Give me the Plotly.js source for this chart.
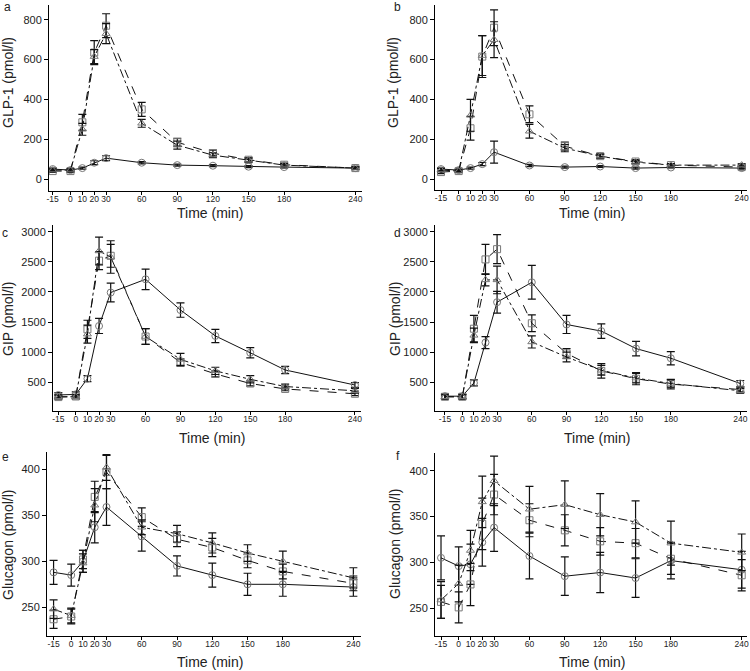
<!DOCTYPE html>
<html>
<head>
<meta charset="utf-8">
<script src="https://cdn.plot.ly/plotly-3.0.1.min.js"></script>
<style>html,body{margin:0;padding:0;background:#fff;}#chart{width:750px;height:671px;}</style>
</head>
<body>
<div id="chart"></div>
<script>
const time = [-15, 0, 10, 20, 30, 60, 90, 120, 150, 180, 240];
const timeLabels = ["-15", "0", "10", "20", "30", "60", "90", "120", "150", "180", "240"];

const aCircle = [50, 45, 55, 82, 105, 82, 70, 67, 62, 60, 55];
const aCircleErr = [6, 5, 5, 10, 12, 6, 5, 5, 5, 5, 5];
const aSquare = [40, 40, 285, 635, 770, 350, 185, 130, 97, 72, 55];
const aSquareErr = [6, 6, 40, 60, 60, 35, 20, 15, 10, 8, 6];
const aTriangle = [45, 45, 250, 615, 730, 280, 170, 120, 95, 70, 55];
const aTriangleErr = [6, 6, 30, 35, 50, 20, 20, 12, 10, 8, 6];

const bCircle = [50, 45, 55, 75, 135, 68, 60, 63, 55, 58, 55];
const bCircleErr = [6, 6, 5, 8, 55, 6, 5, 5, 5, 5, 5];
const bSquare = [35, 40, 255, 615, 760, 325, 165, 115, 88, 70, 60];
const bSquareErr = [8, 6, 60, 105, 90, 42, 20, 10, 10, 8, 6];
const bTriangle = [45, 40, 320, 620, 700, 240, 155, 115, 85, 70, 70];
const bTriangleErr = [8, 6, 80, 100, 90, 35, 18, 10, 8, 8, 6];

const cCircle = [290, 300, 560, 1435, 1990, 2210, 1700, 1270, 990, 705, 455];
const cCircleErr = [40, 40, 50, 125, 155, 170, 120, 110, 85, 60, 40];
const cSquare = [255, 265, 1380, 2520, 2600, 1260, 830, 640, 480, 390, 310];
const cSquareErr = [30, 30, 150, 150, 190, 130, 60, 50, 40, 30, 30];
const cTriangle = [260, 260, 1300, 2680, 2580, 1260, 880, 690, 550, 430, 360];
const cTriangleErr = [30, 30, 150, 230, 270, 130, 100, 60, 60, 40, 40];

const dCircle = [270, 270, 490, 1160, 1830, 2160, 1460, 1350, 1060, 900, 480];
const dCircleErr = [40, 30, 50, 100, 180, 280, 150, 120, 120, 110, 50];
const dSquare = [260, 260, 1390, 2540, 2710, 1480, 980, 690, 560, 470, 380];
const dSquareErr = [40, 40, 220, 250, 240, 140, 80, 120, 100, 80, 40];
const dTriangle = [260, 260, 1280, 2200, 2200, 1170, 920, 700, 570, 480, 360];
const dTriangleErr = [30, 30, 120, 100, 230, 100, 80, 80, 80, 60, 40];

const eCircle = [288, 285, 300, 337, 359, 327, 295, 285, 275, 275, 272];
const eCircleErr = [13, 12, 12, 17, 20, 16, 11, 13, 12, 13, 10];
const eSquare = [237, 240, 302, 370, 397, 348, 324, 315, 301, 289, 276];
const eSquareErr = [10, 8, 10, 17, 18, 10, 8, 10, 8, 8, 8];
const eTriangle = [248, 241, 298, 361, 402, 337, 330, 320, 309, 300, 282];
const eTriangleErr = [10, 8, 10, 18, 14, 8, 9, 11, 9, 11, 11];

const fCircle = [305, 296, 298, 322, 338, 307, 285, 289, 283, 302, 292];
const fCircleErr = [24, 21, 22, 26, 26, 25, 21, 22, 21, 20, 20];
const fSquare = [257, 251, 276, 342, 374, 346, 335, 323, 321, 304, 286];
const fSquareErr = [18, 17, 23, 28, 22, 18, 17, 15, 16, 17, 17];
const fTriangle = [259, 277, 313, 366, 389, 358, 363, 352, 344, 321, 311];
const fTriangleErr = [20, 20, 22, 28, 27, 25, 26, 23, 23, 24, 20];

const glpTicks = [0, 200, 400, 600, 800];
const gipTicks = [500, 1000, 1500, 2000, 2500, 3000];
const glucTicks = [250, 300, 350, 400];

const W = 750, H = 671;
const FONT = "Liberation Sans, Arial, sans-serif";

// panel geometry in pixels: [x0, x1, yTop, yBottom]
const panels = [
  {id: 'a', px: [49, 362, 5, 191], xr: [-18.1, 245.6], yr: [-60, 874], yt: glpTicks, ytitle: 'GLP-1 (pmol/l)',
   s: [[aCircle, aCircleErr], [aSquare, aSquareErr], [aTriangle, aTriangleErr]],
   ytPos: [8, 83], xtPos: [210, 213], lab: [7, 7]},
  {id: 'b', px: [435, 747, 5, 190], xr: [-20.1, 244.5], yr: [-55, 874], yt: glpTicks, ytitle: 'GLP-1 (pmol/l)',
   s: [[bCircle, bCircleErr], [bSquare, bSquareErr], [bTriangle, bTriangleErr]],
   ytPos: [393, 83], xtPos: [592, 213], lab: [398, 7]},
  {id: 'c', px: [53, 361, 225, 411], xr: [-19.6, 245.2], yr: [24, 3111], yt: gipTicks, ytitle: 'GIP (pmol/l)',
   s: [[cCircle, cCircleErr], [cSquare, cSquareErr], [cTriangle, cTriangleErr]],
   ytPos: [8, 319], xtPos: [212, 438], lab: [5, 233]},
  {id: 'd', px: [435, 747, 225, 411], xr: [-23.6, 245.8], yr: [24, 3111], yt: gipTicks, ytitle: 'GIP (pmol/l)',
   s: [[dCircle, dCircleErr], [dSquare, dSquareErr], [dTriangle, dTriangleErr]],
   ytPos: [395, 319], xtPos: [597, 438], lab: [398, 233]},
  {id: 'e', px: [47, 361, 452, 636], xr: [-20.6, 246.5], yr: [218.8, 418.8], yt: glucTicks, ytitle: 'Glucagon (pmol/l)',
   s: [[eCircle, eCircleErr], [eSquare, eSquareErr], [eTriangle, eTriangleErr]],
   ytPos: [8, 545], xtPos: [210, 662], lab: [5, 457]},
  {id: 'f', px: [435, 747, 453, 636], xr: [-20.1, 244.5], yr: [219.8, 419.3], yt: glucTicks, ytitle: 'Glucagon (pmol/l)',
   s: [[fCircle, fCircleErr], [fSquare, fSquareErr], [fTriangle, fTriangleErr]],
   ytPos: [395, 543], xtPos: [592, 662], lab: [398, 456]}
];

const styles = [
  {symbol: 'circle-open', dash: 'solid'},
  {symbol: 'square-open', dash: 'dash'},
  {symbol: 'triangle-up-open', dash: 'dashdot'}
];

const traces = [];
const layout = {
  width: W, height: H,
  margin: {l: 0, r: 0, t: 0, b: 0},
  paper_bgcolor: '#fff', plot_bgcolor: '#fff',
  showlegend: false,
  font: {family: FONT, color: '#222'},
  annotations: []
};

panels.forEach((p, i) => {
  const n = i + 1;
  const xa = 'xaxis' + (n === 1 ? '' : n);
  const ya = 'yaxis' + (n === 1 ? '' : n);
  const xref = 'x' + (n === 1 ? '' : n);
  const yref = 'y' + (n === 1 ? '' : n);
  layout[xa] = {
    domain: [p.px[0] / W, p.px[1] / W],
    range: p.xr, anchor: yref,
    showgrid: false, zeroline: false,
    showline: true, linecolor: '#000', linewidth: 1,
    ticks: 'outside', ticklen: 3, tickcolor: '#000', tickwidth: 1,
    tickmode: 'array', tickvals: time, ticktext: timeLabels,
    tickangle: 0, ticklabeloverflow: 'allow', ticklabelstandoff: -3,
    tickfont: {size: 8.5, family: FONT, color: '#222'}
  };
  layout[ya] = {
    domain: [1 - p.px[3] / H, 1 - p.px[2] / H],
    range: p.yr, anchor: xref,
    showgrid: false, zeroline: false,
    showline: true, linecolor: '#000', linewidth: 1,
    ticks: 'outside', ticklen: 4, tickcolor: '#000', tickwidth: 1,
    tickmode: 'array', tickvals: p.yt,
    tickfont: {size: 11, family: FONT, color: '#222'}
  };
  p.s.forEach((ser, k) => {
    traces.push({
      x: time, y: ser[0], xaxis: xref, yaxis: yref,
      type: 'scatter', mode: 'lines+markers',
      line: {color: '#111', width: 1, dash: styles[k].dash},
      marker: {symbol: styles[k].symbol, size: 7, color: '#777', line: {color: '#777', width: 1}},
      error_y: {type: 'data', array: ser[1], visible: true, color: '#111', thickness: 1.2, width: 4},
      cliponaxis: false
    });
  });
  layout.annotations.push({
    text: p.ytitle, textangle: -90, xref: 'paper', yref: 'paper',
    x: p.ytPos[0] / W, y: 1 - p.ytPos[1] / H, xanchor: 'center', yanchor: 'middle',
    showarrow: false, font: {size: 14, family: FONT, color: '#222'}
  });
  layout.annotations.push({
    text: 'Time (min)', xref: 'paper', yref: 'paper',
    x: p.xtPos[0] / W, y: 1 - p.xtPos[1] / H, xanchor: 'center', yanchor: 'middle',
    showarrow: false, font: {size: 14, family: FONT, color: '#222'}
  });
  layout.annotations.push({
    text: p.id, xref: 'paper', yref: 'paper',
    x: p.lab[0] / W, y: 1 - p.lab[1] / H, xanchor: 'center', yanchor: 'middle',
    showarrow: false, font: {size: 12, family: FONT, color: '#222'}
  });
});

Plotly.newPlot('chart', traces, layout, {staticPlot: true, displayModeBar: false});
</script>
</body>
</html>
